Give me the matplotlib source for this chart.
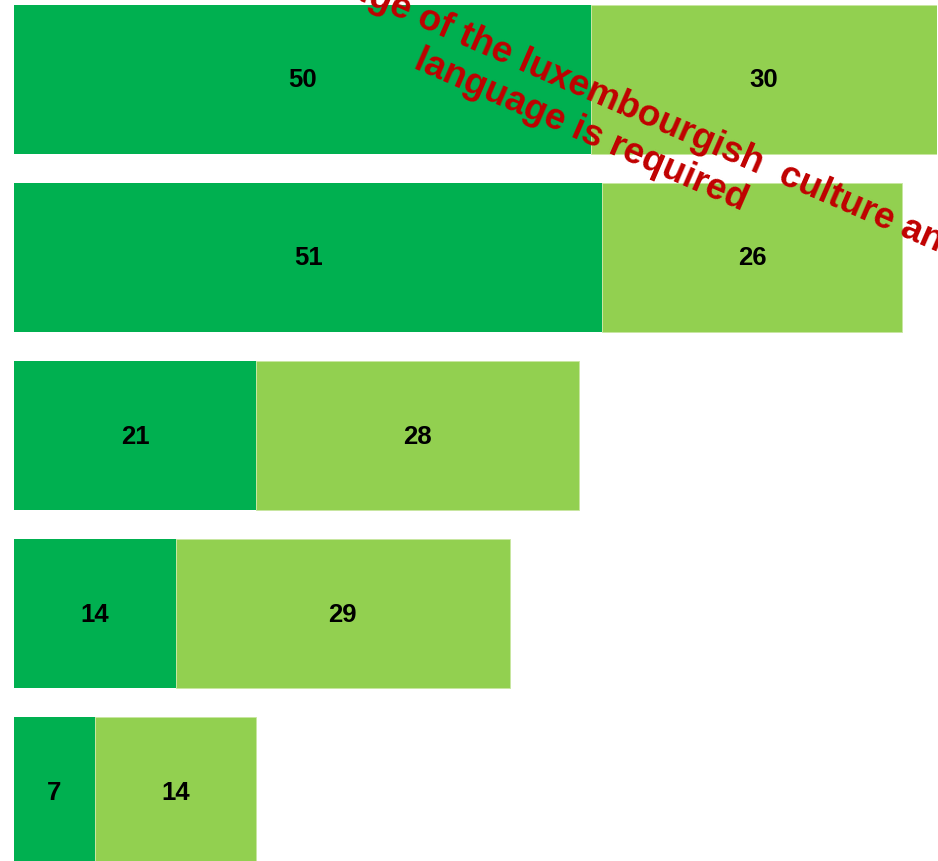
import numpy as np
import matplotlib.pyplot as plt

plt.rcParams['font.family'] = ['Liberation Sans', 'DejaVu Sans']

# values (top to bottom)
dark_vals = [50, 51, 21, 14, 7]
light_vals = [30, 26, 28, 29, 14]
dark_color = '#00B050'
light_color = '#92D050'

fig = plt.figure(figsize=(9.38, 8.62), dpi=100)
ax = fig.add_axes([14 / 938, 0, 923 / 938, 1])

y = np.arange(len(dark_vals))
h = 0.837
ax.barh(y, dark_vals, height=h, color=dark_color)
ax.barh(y, light_vals, left=dark_vals, height=h, color=light_color,
        edgecolor='#c8e6a0', linewidth=0.6)

for i in range(len(y)):
    ax.text(dark_vals[i] / 2, y[i], str(dark_vals[i]), ha='center', va='center',
            fontsize=18.5, fontweight='bold', color='black')
    ax.text(dark_vals[i] + light_vals[i] / 2, y[i], str(light_vals[i]),
            ha='center', va='center', fontsize=18.5, fontweight='bold', color='black')

ax.set_xlim(0, 80)
ax.set_ylim(4.390, -0.452)
ax.axis('off')

fig.text(0.6274, 0.8705, 'Knowledge of the luxembourgish  culture and\nlanguage is required',
         rotation=-23.5, rotation_mode='anchor', ha='center', va='center',
         multialignment='center', fontsize=26.5, fontweight='bold', color='#C00000',
         linespacing=1.2)

fig.savefig('out.png', dpi=100)
